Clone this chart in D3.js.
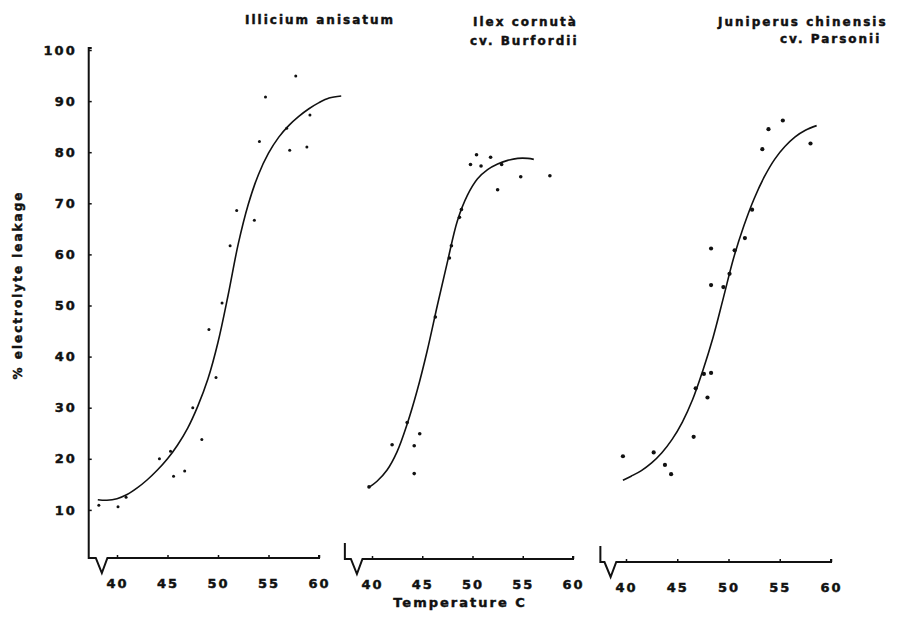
<!DOCTYPE html>
<html>
<head>
<meta charset="utf-8">
<script src="https://cdn.jsdelivr.net/npm/d3@7"></script>
<style>
body{margin:0;background:#fff}
text{font-family:"DejaVu Sans",sans-serif;font-weight:bold;fill:#111;stroke:#111;stroke-width:0.45px}
</style>
</head>
<body>
<script>
// tick values
var yTicks = [10, 20, 30, 40, 50, 60, 70, 80, 90, 100];
var xTicks = [40, 45, 50, 55, 60];

// Illicium anisatum: [temperature, % leakage]
var illiciumPts = [[38.2,10.9],[40.1,10.6],[40.9,12.5],[44.2,20.0],[45.3,21.5],[45.6,16.6],[46.7,17.6],
  [47.5,30.0],[48.4,23.8],[49.1,45.3],[49.8,35.9],[50.4,50.5],[51.2,61.7],[51.85,68.6],[53.6,66.7],
  [54.1,82.1],[54.7,90.8],[56.8,84.7],[57.1,80.4],[57.7,94.9],[58.8,81.0],[59.1,87.3]];
var illiciumCurve = [[38.1,12.0],[39,11.9],[40,12.2],[41,13.0],[42,14.3],[43,15.9],[44,17.8],[45,20.0],
  [46,22.7],[47,26.0],[48,30.3],[49,35.6],[50,42.8],[51,52.0],[52,62.0],[53,69.8],[54,75.6],[55,79.8],
  [56,82.9],[57,85.2],[58,87.0],[59,88.5],[60,89.7],[61,90.6],[62.2,91.0]];

// Ilex cornuta cv. Burfordii
var ilexPts = [[39.7,14.5],[42.0,22.75],[43.5,27.1],[44.2,22.55],[44.2,17.1],[44.75,24.9],[46.3,47.75],
  [47.7,59.3],[47.9,61.7],[48.7,67.25],[48.9,68.8],[49.8,77.6],[50.4,79.5],[50.85,77.3],[51.8,79.0],
  [52.5,72.65],[52.9,77.6],[54.8,75.2],[57.7,75.4]];
var ilexCurve = [[39.7,14.4],[40.5,15.6],[41.5,17.8],[42.5,21.4],[43.5,26.8],[44.5,33.4],[45.5,41.2],
  [46.5,50.0],[47.5,58.5],[48.5,66.6],[49.5,71.6],[50.5,74.8],[51.5,76.6],[52.5,77.7],[53.5,78.4],
  [54.5,78.8],[55.5,78.8],[56.1,78.6]];

// Juniperus chinensis cv. Parsonii
var juniperusPts = [[39.7,20.5],[42.7,21.25],[43.8,18.8],[44.4,17.0],[46.6,24.3],[46.8,33.8],[47.6,36.6],
  [47.95,32.0],[48.3,36.8],[48.3,54.0],[48.3,61.15],[49.5,53.6],[50.1,56.2],[50.6,60.8],[51.6,63.2],
  [52.3,68.75],[53.3,80.6],[53.9,84.5],[55.3,86.2],[58.0,81.7]];
var juniperusCurve = [[39.7,15.8],[40.5,16.6],[41.5,17.7],[42.5,19.2],[43.5,21.2],[44.5,23.8],[45.5,27.2],
  [46.5,31.6],[47.5,37.3],[48.5,43.8],[49.5,51.5],[50.5,59.3],[51.5,65.6],[52.5,70.9],[53.5,75.2],
  [54.5,78.6],[55.5,81.1],[56.5,83.0],[57.5,84.3],[58.6,85.2]];

var svg = d3.select("body").append("svg")
  .attr("width", 914)
  .attr("height", 619);

var y = d3.scaleLinear().domain([0, 100]).range([561, 50]);

var panels = [
  {pts: illiciumPts, curve: illiciumCurve, range: [117, 319], base: 558, start: 37.2, r: 1.5,
   titles: [{t: "Illicium anisatum", x: 245, y: 24}]},
  {pts: ilexPts, curve: ilexCurve, range: [372, 573], base: 559, start: 37.3, r: 1.8,
   titles: [{t: "Ilex cornutà", x: 473, y: 26}, {t: "cv. Burfordii", x: 470, y: 45}]},
  {pts: juniperusPts, curve: juniperusCurve, range: [626, 831], base: 562, start: 37.5, r: 2.1,
   titles: [{t: "Juniperus chinensis", x: 718, y: 26}, {t: "cv. Parsonii", x: 780, y: 43}]}
];

panels.forEach(function(p, i){
  var x = d3.scaleLinear().domain([40, 60]).range(p.range);

  // x axis ticks + labels
  var ax = svg.append("g")
    .attr("transform", "translate(0," + p.base + ")")
    .call(d3.axisBottom(x).tickValues(xTicks).tickSize(-3).tickPadding(21).tickSizeOuter(0));
  ax.select(".domain").remove();
  ax.selectAll("line").attr("stroke", "#111").attr("stroke-width", 1.5);
  ax.selectAll("text").style("font-size", "13px").style("letter-spacing", "2px")
    .style("font-family", "DejaVu Sans").attr("fill", "#111");

  // axis line with break
  var b = p.base;
  var path = d3.path();
  if (i == 0) {
    path.moveTo(x(p.start) + 3, y(100) - 2);
    path.lineTo(x(p.start), y(100) - 2);
    path.lineTo(x(p.start), b);
  } else {
    path.moveTo(x(p.start), b - 16);
    path.lineTo(x(p.start), b);
  }
  path.lineTo(x(37.9), b);
  path.lineTo(x(38.5), b + 15);
  path.lineTo(x(39.05), b);
  path.lineTo(x(60), b);
  path.lineTo(x(60), b - 3);
  svg.append("path").attr("d", path.toString())
    .attr("fill", "none").attr("stroke", "#111").attr("stroke-width", 2)
    .attr("stroke-linejoin", "miter");

  // y axis on first panel
  if (i == 0) {
    var ay = svg.append("g")
      .attr("transform", "translate(" + x(p.start) + ",0)")
      .call(d3.axisLeft(y).tickValues(yTicks).tickSize(-3).tickPadding(12).tickSizeOuter(0));
    ay.select(".domain").remove();
    ay.selectAll("line").attr("stroke", "#111").attr("stroke-width", 1.5);
    ay.selectAll("text").style("font-size", "13px").style("letter-spacing", "2px")
      .style("font-family", "DejaVu Sans").attr("fill", "#111");
  }

  // fitted curve
  var line = d3.line()
    .x(function(d){ return x(d[0]); })
    .y(function(d){ return y(d[1]); })
    .curve(d3.curveCatmullRom.alpha(0.5));
  svg.append("path").datum(p.curve)
    .attr("d", line)
    .attr("fill", "none").attr("stroke", "#111").attr("stroke-width", 1.6);

  // observed points
  svg.append("g").selectAll("circle")
    .data(p.pts)
    .enter()
    .append("circle")
    .attr("cx", function(d){ return x(d[0]); })
    .attr("cy", function(d){ return y(d[1]); })
    .attr("r", p.r)
    .attr("fill", "#111");

  // species names
  svg.selectAll("t" + i)
    .data(p.titles)
    .enter()
    .append("text")
    .attr("x", function(d){ return d.x; })
    .attr("y", function(d){ return d.y; })
    .style("font-size", "12px")
    .style("letter-spacing", "2px")
    .text(function(d){ return d.t; });
});

// axis titles
svg.append("text")
  .attr("x", 460).attr("y", 607)
  .attr("text-anchor", "middle")
  .style("font-size", "13px").style("letter-spacing", "2px")
  .text("Temperature C");

svg.append("text")
  .attr("transform", "translate(22,285) rotate(-90)")
  .attr("text-anchor", "middle")
  .style("font-size", "12px").style("letter-spacing", "2px")
  .text("% electrolyte leakage");
</script>
</body>
</html>
